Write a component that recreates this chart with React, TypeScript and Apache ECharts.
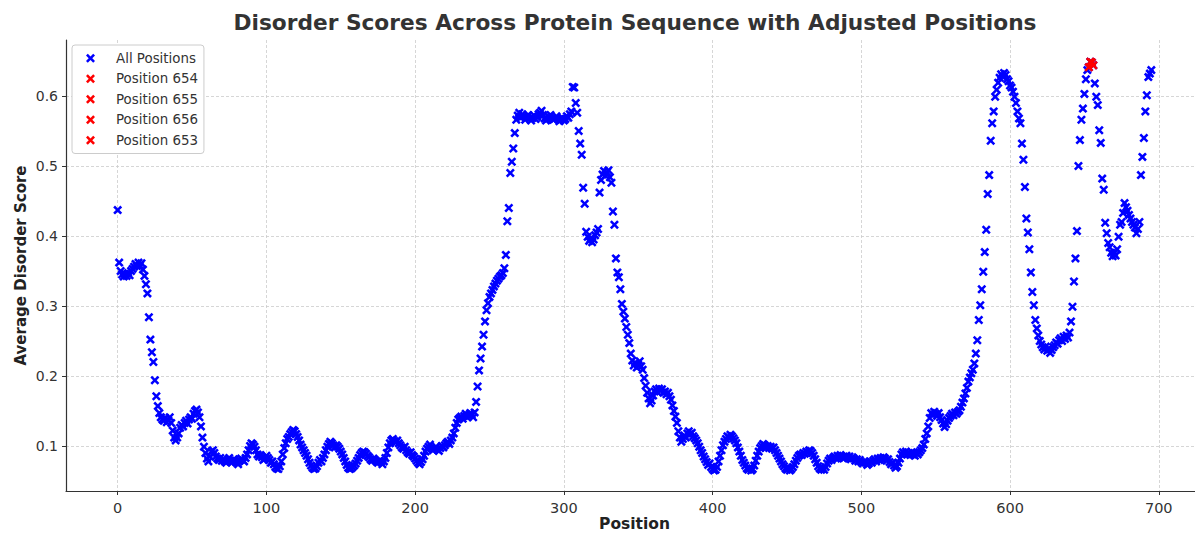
import React, { useEffect, useRef } from "react";
import * as echarts from "echarts";

// Average disorder score per position (index = position)
const scoresA = [
  0.437,0.362,0.350,0.345,0.342,0.346,0.343,0.347,0.344,0.350,
  0.353,0.356,0.360,0.357,0.362,0.358,0.361,0.352,0.343,0.331,
  0.318,0.284,0.252,0.234,0.220,0.194,0.171,0.157,0.147,0.141,
  0.138,0.136,0.140,0.134,0.137,0.141,0.133,0.122,0.112,0.108,
  0.112,0.118,0.126,0.130,0.128,0.133,0.136,0.132,0.138,0.141,
  0.139,0.146,0.150,0.152,0.148,0.141,0.128,0.112,0.099,0.090,
  0.082,0.078,0.085,0.092,0.094,0.090,0.085,0.082,0.080,0.083,
  0.079,0.081,0.078,0.076,0.080,0.083,0.079,0.077,0.081,0.078,
  0.076,0.074,0.079,0.082,0.080,0.078,0.083,0.088,0.094,0.100,
  0.104,0.102,0.099,0.094,0.088,0.085,0.087,0.084,0.080,0.082,
  0.086,0.083,0.080,0.076,0.078,0.074,0.070,0.068,0.067,0.071,
  0.078,0.088,0.097,0.104,0.110,0.113,0.117,0.120,0.123,0.121,
  0.117,0.113,0.108,0.102,0.098,0.094,0.090,0.086,0.081,0.076,
  0.072,0.069,0.067,0.068,0.071,0.076,0.080,0.078,0.083,0.088,
  0.094,0.099,0.103,0.106,0.104,0.101,0.098,0.101,0.099,0.096,
  0.092,0.088,0.083,0.078,0.073,0.069,0.067,0.068,0.070,0.072,
  0.075,0.079,0.083,0.087,0.090,0.092,0.091,0.089,0.086,0.084,
  0.081,0.079,0.082,0.080,0.078,0.076,0.079,0.077,0.074,0.078,
  0.083,0.090,0.098,0.104,0.108,0.110,0.107,0.105,0.108,0.104,
  0.101,0.098,0.096,0.099,0.094,0.091,0.089,0.091,0.087,0.085,
];
const scoresB = [
  0.082,0.079,0.076,0.074,0.077,0.081,0.086,0.092,0.096,0.099,
  0.102,0.097,0.094,0.096,0.099,0.095,0.093,0.097,0.100,0.098,
  0.101,0.104,0.106,0.103,0.108,0.112,0.118,0.126,0.133,0.138,
  0.140,0.142,0.139,0.143,0.146,0.141,0.144,0.147,0.145,0.141,
  0.148,0.163,0.185,0.208,0.225,0.242,0.259,0.278,0.294,0.304,
  0.313,0.318,0.323,0.328,0.332,0.336,0.339,0.342,0.344,0.347,
  0.354,0.373,0.421,0.440,0.490,0.506,0.525,0.547,0.566,0.572,
  0.576,0.569,0.574,0.571,0.566,0.570,0.573,0.568,0.565,0.569,
  0.572,0.567,0.570,0.574,0.576,0.579,0.573,0.568,0.565,0.567,
  0.570,0.573,0.569,0.566,0.568,0.571,0.567,0.564,0.566,0.569,
  0.565,0.567,0.571,0.569,0.574,0.578,0.613,0.612,0.590,0.576,
  0.550,0.532,0.516,0.469,0.446,0.406,0.399,0.393,0.396,0.391,
  0.395,0.401,0.405,0.410,0.462,0.480,0.488,0.493,0.486,0.491,
  0.494,0.484,0.476,0.435,0.416,0.368,0.348,0.341,0.324,0.303,
  0.292,0.282,0.270,0.259,0.247,0.232,0.222,0.215,0.219,0.212,
  0.216,0.221,0.214,0.209,0.197,0.186,0.176,0.168,0.161,0.165,
  0.172,0.178,0.181,0.177,0.182,0.179,0.181,0.176,0.178,0.174,
  0.176,0.171,0.166,0.158,0.150,0.142,0.133,0.121,0.112,0.106,
  0.110,0.115,0.112,0.118,0.121,0.117,0.119,0.114,0.111,0.108,
  0.104,0.099,0.094,0.090,0.085,0.081,0.077,0.073,0.075,0.070,
];
const scoresC = [
  0.067,0.065,0.066,0.070,0.078,0.086,0.094,0.101,0.106,0.110,
  0.114,0.112,0.116,0.114,0.111,0.108,0.104,0.098,0.092,0.086,
  0.080,0.076,0.072,0.068,0.066,0.069,0.065,0.067,0.072,0.079,
  0.086,0.092,0.097,0.100,0.103,0.101,0.098,0.100,0.097,0.099,
  0.096,0.098,0.094,0.090,0.086,0.082,0.078,0.074,0.071,0.068,
  0.066,0.068,0.065,0.067,0.070,0.074,0.079,0.083,0.086,0.088,
  0.087,0.090,0.089,0.092,0.091,0.094,0.093,0.090,0.086,0.081,
  0.076,0.071,0.068,0.066,0.068,0.066,0.070,0.075,0.079,0.082,
  0.080,0.083,0.085,0.082,0.086,0.084,0.087,0.085,0.082,0.084,
  0.086,0.083,0.085,0.081,0.084,0.082,0.079,0.081,0.078,0.080,
  0.077,0.075,0.078,0.076,0.073,0.075,0.078,0.076,0.079,0.081,
  0.078,0.082,0.080,0.083,0.081,0.084,0.082,0.079,0.081,0.077,
  0.074,0.076,0.072,0.069,0.071,0.076,0.082,0.088,0.091,0.089,
  0.092,0.088,0.090,0.087,0.091,0.089,0.086,0.090,0.088,0.091,
  0.094,0.097,0.102,0.110,0.118,0.128,0.140,0.147,0.145,0.149,
  0.146,0.143,0.147,0.141,0.137,0.132,0.127,0.131,0.136,0.140,
  0.143,0.146,0.144,0.148,0.146,0.149,0.151,0.156,0.162,0.168,
  0.175,0.183,0.192,0.198,0.204,0.209,0.218,0.232,0.251,0.280,
  0.301,0.324,0.349,0.377,0.409,0.460,0.487,0.536,0.561,0.578,
  0.599,0.609,0.619,0.626,0.631,0.628,0.633,0.630,0.624,0.621,
];
const scoresD = [
  0.615,0.612,0.606,0.599,0.590,0.578,0.568,0.561,0.532,0.509,
  0.470,0.425,0.405,0.381,0.348,0.320,0.301,0.280,0.268,0.258,
  0.250,0.245,0.241,0.238,0.242,0.236,0.239,0.233,0.237,0.241,
  0.244,0.248,0.246,0.251,0.254,0.250,0.256,0.253,0.258,0.255,
  0.262,0.278,0.299,0.335,0.368,0.407,0.500,0.537,0.566,0.582,
  0.603,0.624,0.637,0.641,0.649,0.648,0.644,0.618,0.599,0.587,
  0.551,0.533,0.482,0.466,0.419,0.404,0.390,0.384,0.376,0.371,
  0.375,0.372,0.381,0.399,0.416,0.420,0.433,0.447,0.441,0.436,
  0.430,0.425,0.420,0.416,0.412,0.404,0.410,0.420,0.487,0.513,
  0.540,0.578,0.601,0.627,0.632,0.637,
];

const highlightPositions = [654, 655, 656, 653];
const highlightScores = [0.649, 0.648, 0.644, 0.641];

const xTicks = [0, 100, 200, 300, 400, 500, 600, 700];
const yTicks = [0.1, 0.2, 0.3, 0.4, 0.5, 0.6];

const FONT = "DejaVu Sans";
const X_PATH =
  "path://M2,0L5,3L8,0L10,2L7,5L10,8L8,10L5,7L2,10L0,8L3,5L0,2Z";

export default function App() {
  const ref = useRef<HTMLDivElement>(null);

  useEffect(() => {
    if (!ref.current) return;
    const chart = echarts.init(ref.current, undefined, { renderer: "svg" });
    const scores = [...scoresA, ...scoresB, ...scoresC, ...scoresD];
    const allData = scores.map((v, i) => [i, v]);

    const redSeries = highlightPositions.map((p, i) => ({
      name: "Position " + p,
      type: "scatter",
      symbol: X_PATH,
      symbolSize: 9,
      itemStyle: { color: "#ff0000", opacity: 1 },
      z: 3,
      data: [[p, highlightScores[i]]],
    }));

    chart.setOption({
      animation: false,
      textStyle: { fontFamily: FONT },
      title: {
        text: "Disorder Scores Across Protein Sequence with Adjusted Positions",
        left: "center",
        top: 11,
        padding: 0,
        textStyle: { fontFamily: FONT, fontSize: 21.7, fontWeight: "bold", color: "#333333" },
      },
      legend: {
        orient: "vertical",
        left: 72,
        top: 45,
        padding: [3, 6, 3, 14],
        itemWidth: 9,
        itemHeight: 9,
        itemGap: 0,
        backgroundColor: "#ffffff",
        borderColor: "#cccccc",
        borderWidth: 1,
        borderRadius: 3,
        textStyle: { fontFamily: FONT, fontSize: 13.4, color: "#333333", lineHeight: 20.5, padding: [0, 0, 0, 16] },
        data: ["All Positions", ...highlightPositions.map((p) => "Position " + p)].map((n) => ({ name: n, icon: X_PATH })),
      },
      grid: { left: 66, top: 40, width: 1137, height: 451, containLabel: false, outerBoundsMode: "none" },
      xAxis: {
        type: "value",
        min: -34.75,
        max: 729.75,
        name: "Position",
        nameLocation: "middle",
        nameGap: 25,
        nameMoveOverlap: false,
        nameTextStyle: { fontFamily: FONT, fontSize: 15.5, lineHeight: 16, fontWeight: "bold", color: "#222222" },
        axisLine: { show: true, onZero: false, lineStyle: { color: "#333333", width: 1.2 } },
        axisTick: { show: true, length: 4, customValues: xTicks, lineStyle: { color: "#333333" } },
        axisLabel: { customValues: xTicks, margin: 9, fontFamily: FONT, fontSize: 14.5, color: "#333333" },
        splitLine: { show: true, lineStyle: { color: "#cccccc", width: 0.8, type: [3, 2] } },
      },
      yAxis: {
        type: "value",
        min: 0.0357,
        max: 0.6800,
        name: "Average Disorder Score",
        nameLocation: "middle",
        nameGap: 38,
        nameMoveOverlap: false,
        nameTextStyle: { fontFamily: FONT, fontSize: 15, lineHeight: 15, fontWeight: "bold", color: "#222222" },
        axisLine: { show: true, onZero: false, lineStyle: { color: "#333333", width: 1.2 } },
        axisTick: { show: true, length: 4, customValues: yTicks, lineStyle: { color: "#333333" } },
        axisLabel: {
          customValues: yTicks,
          margin: 8,
          fontFamily: FONT,
          fontSize: 14,
          color: "#333333",
          formatter: (v: number) => v.toFixed(1),
        },
        splitLine: { show: true, lineStyle: { color: "#cccccc", width: 0.8, type: [3, 2] } },
      },
      series: [
        {
          name: "All Positions",
          type: "scatter",
          symbol: X_PATH,
          symbolSize: 9,
          itemStyle: { color: "#0000ff", opacity: 1 },
          z: 2,
          data: allData,
        },
        ...redSeries,
      ],
    });
    return () => chart.dispose();
  }, []);

  return (
    <div style={{ position: "fixed", left: 0, top: 0, width: 1195, height: 534, overflow: "hidden", background: "#fff" }}>
      <div ref={ref} style={{ width: 1270, height: 534 }} />
    </div>
  );
}
